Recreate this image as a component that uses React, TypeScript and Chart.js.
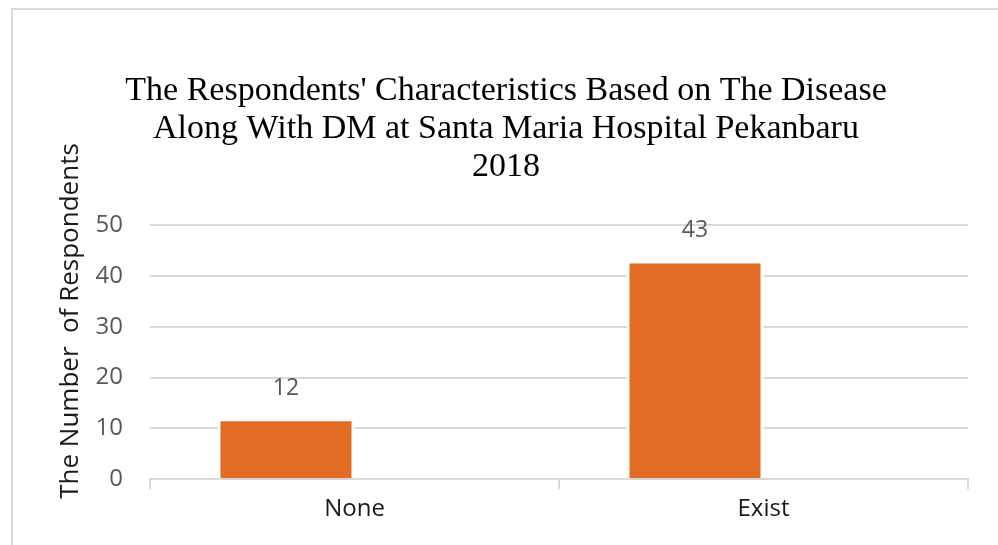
import React, { useEffect, useRef } from "react";
import { Chart, registerables } from "chart.js";

Chart.register(...registerables);

const categories = ["None", "Exist"];
const respondents = [12, 43];
const spacerSeries: (number | null)[] = [null, null];
const yTicks = [0, 10, 20, 30, 40, 50];
const titleLines = [
  "The Respondents' Characteristics Based on The Disease",
  "Along With DM at Santa Maria Hospital Pekanbaru",
  "2018",
];
const yAxisTitle = "The Number  of Respondents";

const BAR = "#E36C25";
const GRID = "#D9D9D9";
const TICK = "#595959";
const SANS = "'Open Sans', 'Noto Sans', sans-serif";

const decorPlugin = {
  id: "decor",
  beforeDraw(chart: any) {
    const ctx = chart.ctx;
    ctx.save();
    ctx.fillStyle = "#fff";
    ctx.fillRect(0, 0, chart.width, chart.height);
    ctx.strokeStyle = "#D9D9D9";
    ctx.lineWidth = 2;
    ctx.beginPath();
    ctx.moveTo(12, chart.height + 5);
    ctx.lineTo(12, 9);
    ctx.lineTo(chart.width + 5, 9);
    ctx.stroke();
    ctx.restore();
  },
  afterDraw(chart: any) {
    const ctx = chart.ctx;
    ctx.save();
    // title
    ctx.fillStyle = "#000";
    ctx.font = "34px 'Liberation Serif', 'Times New Roman', serif";
    ctx.textAlign = "center";
    ctx.textBaseline = "alphabetic";
    const baselines = [100, 138, 176];
    titleLines.forEach((t, i) => ctx.fillText(t, 506, baselines[i]));
    // y axis title
    ctx.save();
    ctx.translate(71, 321);
    ctx.rotate(-Math.PI / 2);
    ctx.font = "26px " + SANS;
    ctx.fillStyle = "#1a1a1a";
    ctx.textAlign = "center";
    ctx.textBaseline = "middle";
    ctx.fillText(yAxisTitle, 0, 0);
    ctx.restore();
    // data labels
    const meta = chart.getDatasetMeta(0);
    ctx.font = "23px " + SANS;
    ctx.fillStyle = TICK;
    ctx.textAlign = "center";
    ctx.textBaseline = "middle";
    meta.data.forEach((el: any, i: number) => {
      ctx.fillText(String(respondents[i]), el.x, el.y - 30);
    });
    ctx.restore();
  },
};

export default function App() {
  const ref = useRef<HTMLCanvasElement>(null);
  useEffect(() => {
    if (!ref.current) return;
    const chart = new Chart(ref.current, {
      type: "bar",
      data: {
        labels: categories,
        datasets: [
          {
            label: "Respondents",
            data: respondents,
            backgroundColor: BAR,
            borderColor: "#fff",
            borderWidth: { left: 3, right: 3, top: 3, bottom: 0 },
            borderSkipped: false,
            barPercentage: 1,
            categoryPercentage: 0.67,
          },
          {
            label: "",
            data: spacerSeries,
            backgroundColor: "transparent",
            barPercentage: 1,
            categoryPercentage: 0.67,
          },
        ],
      },
      options: {
        animation: false,
        responsive: false,
        layout: { padding: { top: 225, right: 30, bottom: 15, left: 0 } },
        plugins: {
          legend: { display: false },
          title: { display: false },
          tooltip: { enabled: false },
        },
        scales: {
          x: {
            grid: {
              display: true,
              drawOnChartArea: false,
              drawTicks: true,
              tickLength: 10,
              color: GRID,
              lineWidth: 2,
            },
            border: { display: true, color: GRID, width: 2 },
            ticks: {
              color: "#1a1a1a",
              font: { size: 24, family: SANS },
              padding: 6,
            },
          },
          y: {
            min: 0,
            max: 50,
            afterBuildTicks(scale: any) {
              scale.ticks = yTicks.map((v) => ({ value: v }));
            },
            afterFit(scale: any) {
              scale.width = 150;
            },
            grid: { color: GRID, lineWidth: 2, drawTicks: false },
            border: { display: false },
            ticks: {
              color: TICK,
              font: { size: 24, family: SANS },
              padding: 27,
            },
          },
        },
      },
      plugins: [decorPlugin],
    });
    return () => chart.destroy();
  }, []);
  return (
    <div style={{ position: "absolute", left: 0, top: 0, width: 998, height: 545 }}>
      <canvas ref={ref} width={998} height={545} style={{ display: "block" }} />
    </div>
  );
}
